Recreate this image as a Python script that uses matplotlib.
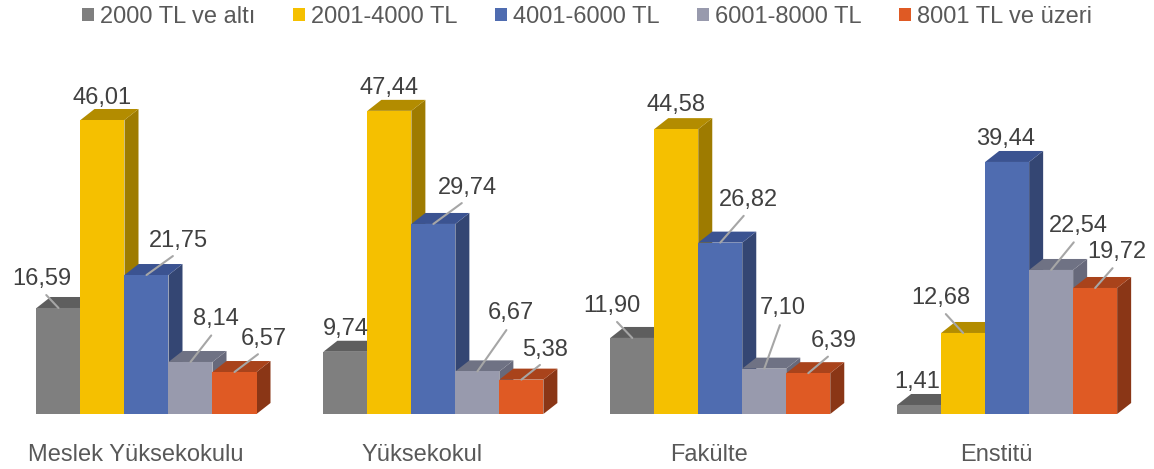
import numpy as np
import matplotlib
matplotlib.use("Agg")
import matplotlib.pyplot as plt
from matplotlib.patches import Polygon, Patch

plt.rcParams['font.family'] = ['Liberation Sans', 'DejaVu Sans']

categories = ["Meslek Yüksekokulu", "Yüksekokul", "Fakülte", "Enstitü"]
series = ["2000 TL ve altı", "2001-4000 TL", "4001-6000 TL", "6001-8000 TL", "8001 TL ve üzeri"]

# one list per income band, values per category
low = [16.59, 9.74, 11.90, 1.41]
mid_low = [46.01, 47.44, 44.58, 12.68]
mid = [21.75, 29.74, 26.82, 39.44]
mid_high = [8.14, 6.67, 7.10, 22.54]
high = [6.57, 5.38, 6.39, 19.72]
values = [low, mid_low, mid, mid_high, high]

# colours: front, top, side
front_cols = ["#7f7f7f", "#f5c000", "#4f6cb0", "#989aad", "#df5a24"]
top_cols = ["#5e5e5e", "#b38c00", "#3b5391", "#6f7284", "#a9431b"]
side_cols = ["#575757", "#9e7b00", "#344673", "#67697b", "#8a3616"]

# label offsets in pixels (dx, dy) from top-front centre of each bar, and whether a leader line is drawn
label_off = [
    [(-17, 29, True), (0, 22, False), (32, 34, True), (25, 43, True), (29, 33, True)],
    [(0, 23, False), (0, 23, False), (34, 36, True), (33, 58, True), (24, 30, True)],
    [(-20, 32, True), (0, 24, False), (28, 43, True), (18, 61, True), (25, 32, True)],
    [(-2, 23, False), (-22, 35, True), (-2, 23, False), (27, 44, True), (22, 36, True)],
]

W, H = 1154, 469
fig = plt.figure(figsize=(W / 100, H / 100), dpi=100)
ax = fig.add_axes([0, 0, 1, 1])
ax.set_xlim(-146.5 / 44, (W - 146.5) / 44)
ax.set_ylim(-55 / 6.39, (H - 55) / 6.39)
ax.axis("off")

group_gap = 6.52
dx = 14 / 44
dy = 11 / 6.39
bw = 1.0

for gi, cat in enumerate(categories):
    gc = gi * group_gap
    for si in range(len(series)):
        v = values[si][gi]
        xc = gc + (si - 2) * bw
        x0, x1 = xc - bw / 2, xc + bw / 2
        z = 2 + si * 3
        side = Polygon([(x1, 0), (x1 + dx, dy), (x1 + dx, v + dy), (x1, v)],
                       closed=True, facecolor=side_cols[si], edgecolor="none", zorder=z)
        top = Polygon([(x0, v), (x1, v), (x1 + dx, v + dy), (x0 + dx, v + dy)],
                      closed=True, facecolor=top_cols[si], edgecolor="none", zorder=z + 1)
        ax.add_patch(side)
        ax.add_patch(top)
        ax.bar(xc, v, width=bw, color=front_cols[si], zorder=z + 2)

        ox, oy, line = label_off[gi][si]
        txt = ("%.2f" % v).replace(".", ",")
        if line:
            ax.annotate(txt, xy=(xc, v), xytext=(ox, oy), textcoords="offset pixels",
                        ha="center", va="center", fontsize=17, color="#404040", zorder=30,
                        arrowprops=dict(arrowstyle="-", color="#a6a6a6", lw=1.5,
                                        patchA=None, relpos=(0.5, 0),
                                        shrinkA=5, shrinkB=0))
        else:
            ax.annotate(txt, xy=(xc, v), xytext=(ox, oy), textcoords="offset pixels",
                        ha="center", va="center", fontsize=17, color="#404040", zorder=30)

    ax.text(gc - 0.25, -41 / 6.39, cat, ha="center", va="center", fontsize=17, color="#595959")

handles = [Patch(facecolor=c, edgecolor="none") for c in front_cols]
ax.legend(handles, series, loc="center", bbox_to_anchor=(587 / W, 1 - 17 / H),
          ncol=5, frameon=False, fontsize=17, labelcolor="#595959",
          handlelength=0.5, handleheight=0.5, handletextpad=0.25, columnspacing=1.6,
          borderpad=0, borderaxespad=0)

fig.savefig("out.png", dpi=100)
